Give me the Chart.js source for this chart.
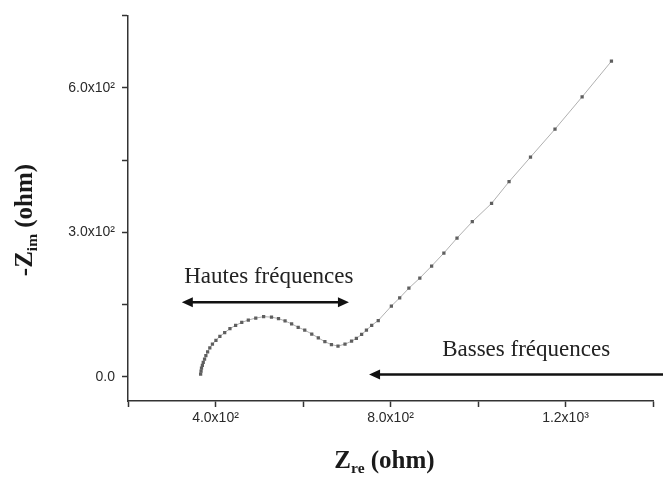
<!DOCTYPE html>
<html>
<head>
<meta charset="utf-8">
<script src="https://cdn.jsdelivr.net/npm/chart.js@4.4.0/dist/chart.umd.min.js"></script>
<style>
  html, body { margin: 0; padding: 0; background: #fff; }
  #wrap { width: 663px; height: 479px; }
</style>
</head>
<body>
<div id="wrap"><canvas id="nyquist"></canvas></div>
<script>
// Nyquist plot data
var zRe = [366, 367, 368, 370, 372, 375, 378, 382, 387, 393, 401, 410, 421, 433, 446, 460, 475, 492, 510,
           528, 544, 559, 574, 589, 604, 620, 635, 650, 665, 680, 696, 711, 722, 734, 745, 757, 772,
           802, 821, 842, 867, 894, 922, 952, 987, 1031, 1071, 1120, 1176, 1238, 1305];
var zIm = [6, 12, 18, 24, 30, 37, 44, 52, 60, 68, 76, 84, 92, 100, 107, 113, 118, 122, 125,
           124, 121, 116, 110, 103, 97, 89, 81, 73, 67, 64, 68, 74, 80, 88, 97, 107, 117,
           147, 164, 184, 205, 230, 257, 288, 322, 360, 405, 456, 514, 581, 655];

var xTickVals = [200, 400, 600, 800, 1000, 1200, 1400];
var xTickLabels = { 400: "4.0x10²", 800: "8.0x10²", 1200: "1.2x10³" };
var yTickVals = [0, 150, 300, 450, 600, 750];
var yTickLabels = { 0: "0.0", 300: "3.0x10²", 600: "6.0x10²" };

var points = zRe.map(function (x, i) { return { x: x, y: zIm[i] }; });

// annotations: arrows and texts, in data coordinates
var notes = {
    hautes: { text: "Hautes fréquences", x: 522, y: 195, from: 323, to: 705, ay: 155, both: true },
    basses: { text: "Basses fréquences", x: 1110, y: 43, from: 1425, to: 751, ay: 5, both: false }
};

function arrowHead(ctx, x, y, dir) {
    ctx.beginPath();
    ctx.moveTo(x, y);
    ctx.lineTo(x - dir * 11, y - 5);
    ctx.lineTo(x - dir * 11, y + 5);
    ctx.closePath();
    ctx.fill();
}

function drawSub(ctx, parts, size) {
    // parts: [text, isSub]; draws centred on 0,0 baseline
    var widths = parts.map(function (p) {
        ctx.font = "bold " + (p[1] ? size * 0.62 : size) + "px 'Liberation Serif'";
        return ctx.measureText(p[0]).width;
    });
    var total = widths.reduce(function (a, b) { return a + b; }, 0);
    var x = -total / 2;
    parts.forEach(function (p, i) {
        ctx.font = "bold " + (p[1] ? size * 0.62 : size) + "px 'Liberation Serif'";
        ctx.fillText(p[0], x, p[1] ? size * 0.2 : 0);
        x += widths[i];
    });
}

var notesPlugin = {
    id: "notes",
    afterDraw: function (chart) {
        var ctx = chart.ctx, xs = chart.scales.x, ys = chart.scales.y;
        ctx.save();
        ctx.fillStyle = "#222";
        ctx.strokeStyle = "#111";
        ctx.lineWidth = 2.5;
        ctx.textAlign = "center";
        ctx.textBaseline = "alphabetic";
        Object.keys(notes).forEach(function (k) {
            var n = notes[k];
            ctx.font = "23px 'Liberation Serif'";
            ctx.fillText(n.text, xs.getPixelForValue(n.x), ys.getPixelForValue(n.y));
            var x1 = xs.getPixelForValue(n.from), x2 = xs.getPixelForValue(n.to);
            var y = ys.getPixelForValue(n.ay);
            var dir = x2 > x1 ? 1 : -1;
            ctx.beginPath();
            ctx.moveTo(n.both ? x1 + dir * 8 : x1, y);
            ctx.lineTo(x2 - dir * 8, y);
            ctx.stroke();
            ctx.fillStyle = "#111";
            arrowHead(ctx, x2, y, dir);
            if (n.both) arrowHead(ctx, x1, y, -dir);
            ctx.fillStyle = "#222";
        });

        // axis titles with subscripts
        ctx.textAlign = "left";
        ctx.fillStyle = "#1a1a1a";
        ctx.save();
        ctx.translate((xs.left + xs.right) / 2 - 6, 468);
        drawSub(ctx, [["Z", false], ["re", true], [" (ohm)", false]], 25);
        ctx.restore();
        ctx.save();
        ctx.translate(32, 220);
        ctx.rotate(-Math.PI / 2);
        drawSub(ctx, [["-Z", false], ["im", true], [" (ohm)", false]], 25);
        ctx.restore();
        ctx.restore();
    }
};

document.addEventListener("DOMContentLoaded", function () {
    var ctx = document.getElementById("nyquist").getContext("2d");

    new Chart(ctx, {
        type: "scatter",
        data: {
            datasets: [{
                data: points,
                showLine: true,
                borderColor: "#b0b0b0",
                borderWidth: 1,
                pointStyle: "rect",
                pointRadius: 2.3,
                pointBackgroundColor: "#5f5f5f",
                pointBorderWidth: 0
            }]
        },
        options: {
            responsive: true,
            maintainAspectRatio: false,
            animation: false,
            layout: { padding: { top: 13, right: 10, left: 0, bottom: 0 } },
            plugins: {
                legend: { display: false },
                tooltip: { enabled: false }
            },
            scales: {
                x: {
                    type: "linear",
                    min: 200,
                    max: 1400,
                    afterFit: function (s) { s.height = 78; },
                    afterBuildTicks: function (s) {
                        s.ticks = xTickVals.map(function (v) { return { value: v }; });
                    },
                    border: { color: "#333", width: 1.5 },
                    grid: { drawOnChartArea: false, drawTicks: true, tickLength: 6, color: "#333", tickWidth: 1.5 },
                    ticks: {
                        autoSkip: false,
                        maxRotation: 0,
                        padding: 3,
                        color: "#2a2a2a",
                        font: { family: "'Liberation Sans'", size: 14 },
                        callback: function (v) { return xTickLabels[v] || ""; }
                    }
                },
                y: {
                    type: "linear",
                    min: -50,
                    max: 750,
                    afterFit: function (s) { s.width = 128; },
                    afterBuildTicks: function (s) {
                        s.ticks = yTickVals.map(function (v) { return { value: v }; });
                    },
                    border: { color: "#333", width: 1.5 },
                    grid: { drawOnChartArea: false, drawTicks: true, tickLength: 6, color: "#333", tickWidth: 1.5 },
                    ticks: {
                        autoSkip: false,
                        padding: 7,
                        color: "#2a2a2a",
                        font: { family: "'Liberation Sans'", size: 14 },
                        callback: function (v) { return yTickLabels[v] || ""; }
                    }
                }
            }
        },
        plugins: [notesPlugin]
    });
});
</script>
</body>
</html>
